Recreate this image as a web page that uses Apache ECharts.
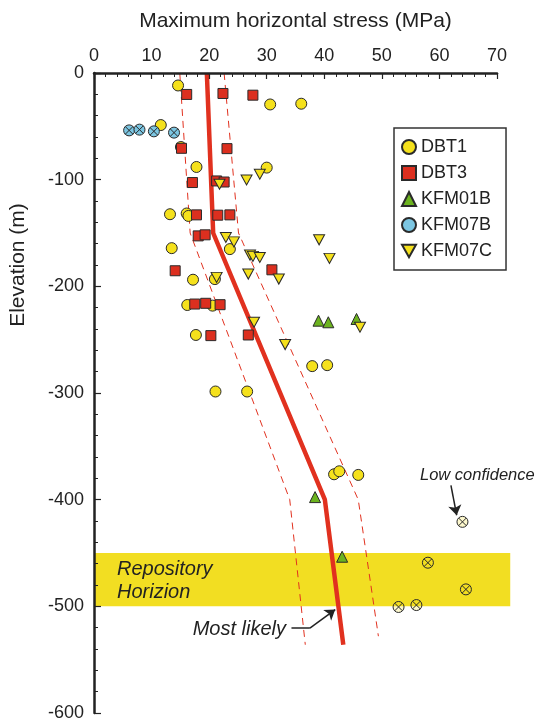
<!DOCTYPE html>
<html>
<head>
<meta charset="utf-8">
<script src="https://cdn.jsdelivr.net/npm/echarts@6/dist/echarts.min.js"></script>
<style>
    html, body { margin: 0; padding: 0; background: #fff; }
    #stress_chart { width: 537px; height: 722px; }
</style>
</head>
<body>
<div id="stress_chart"></div>
<script>
    // measured points: [stress MPa, elevation m]
    var dbt1 = [[14.6,-11.7],[30.6,-29.5],[36.0,-28.8],[11.6,-48.8],[15.1,-69.4],[17.8,-88.1],[30.0,-88.7],
        [13.2,-132.4],[16.1,-131.7],[16.4,-134.0],[13.5,-164.2],[23.6,-165.1],[17.2,-193.8],[21.0,-193.2],
        [16.2,-217.5],[20.6,-218.1],[17.7,-245.6],[37.9,-274.8],[40.5,-273.9],[21.1,-298.6],[26.6,-298.6],
        [41.7,-376.2],[42.6,-373.4],[45.9,-376.8]];
    var dbt3 = [[16.1,-20.1],[22.4,-19.2],[27.6,-20.8],[15.2,-70.6],[23.1,-70.9],[17.1,-102.7],[21.3,-101.2],
        [22.6,-102.2],[17.8,-133.0],[21.5,-133.3],[23.6,-133.0],[18.1,-152.7],[19.3,-151.7],[14.1,-185.4],
        [30.9,-184.5],[17.5,-216.6],[19.4,-215.9],[21.9,-217.2],[20.3,-246.2],[26.8,-245.6]];
    var kfm01b = [[39.0,-232.2],[40.7,-233.7],[45.6,-230.6],[38.4,-397.6],[43.1,-453.5]];
    var kfm07b = [[6.1,-53.8],[7.9,-53.1],[10.4,-54.7],[13.9,-55.9]];
    var kfm07c = [[28.8,-94.9],[26.5,-100.3],[21.8,-104.3],[22.9,-154.2],[24.3,-158.3],[39.1,-156.4],
        [40.9,-173.8],[27.1,-170.7],[27.6,-171.9],[28.8,-172.9],[32.1,-193.2],[21.3,-191.6],[26.8,-188.5],
        [27.8,-233.7],[33.2,-254.6],[46.2,-238.4]];
    var lowConfidence = [[64.0,-420.8],[58.0,-459.1],[64.6,-484.1],[52.9,-500.6],[56.0,-498.8]];

    // stress profiles
    var mostLikely = [[19.6,0],[20.7,-150],[40.1,-400],[43.3,-536]];
    var lowerBound = [[14.9,0],[16.7,-150],[34.0,-400],[36.7,-536]];
    var upperBound = [[22.6,0],[25.1,-150],[45.9,-400],[49.4,-528]];

    // repository horizon band [x from, x to, elevation top, elevation bottom]
    var repositoryBand = [0, 72.3, -450, -500];

    // annotation arrows (last segment carries the head)
    var arrowLowConfidence = [[62.0,-386.5],[63.0,-414.6]];
    var leaderMostLikely = [[34.3,-520.5],[37.5,-520.5]];
    var arrowMostLikely = [[37.5,-520.5],[41.9,-503.0]];

    var xRange = [0, 70, 10];
    var yRange = [-600, 0, 100];

    var FONT = 'Liberation Sans, Arial, sans-serif';
    var crossCircle = 'path://M10,0A10,10,0,1,1,10,20A10,10,0,1,1,10,0ZM3,3L17,17M17,3L3,17';
    var downTriangle = 'path://M0,0L10,0L5,9Z';

    function pointSeries(name, data, symbol, size, color) {
        return {
            name: name,
            type: 'scatter',
            data: data,
            symbol: symbol,
            symbolSize: size,
            z: 4,
            itemStyle: {
                color: color,
                borderColor: '#2a2a2a',
                borderWidth: 1,
                opacity: 1
            }
        };
    }

    function profile(data, width, dashed) {
        return {
            type: 'line',
            data: data,
            symbol: 'none',
            silent: true,
            z: 3,
            lineStyle: {
                color: '#e1311f',
                width: width,
                type: dashed ? [7, 5] : 'solid'
            }
        };
    }

    function arrow(coords, head) {
        return {
            type: 'lines',
            coordinateSystem: 'cartesian2d',
            silent: true,
            z: 5,
            symbol: head ? ['none', 'arrow'] : 'none',
            symbolSize: 10,
            lineStyle: { color: '#222', width: 1.5, opacity: 1 },
            data: [{ coords: coords }]
        };
    }

    var option = {
        animation: false,
        backgroundColor: '#fff',
        textStyle: { fontFamily: FONT },
        grid: { left: 94, right: 40, top: 73, bottom: 7 },
        legend: {
            orient: 'vertical',
            left: 394,
            top: 128,
            padding: [10, 14, 10, 7],
            itemGap: 8,
            itemWidth: 14,
            itemHeight: 14,
            borderColor: '#333',
            borderWidth: 1.5,
            selectedMode: false,
            textStyle: { fontSize: 18, color: '#222', fontFamily: FONT },
            data: [
                { name: 'DBT1', icon: 'circle' },
                { name: 'DBT3', icon: 'rect' },
                { name: 'KFM01B', icon: 'triangle' },
                { name: 'KFM07B', icon: 'circle' },
                { name: 'KFM07C', icon: downTriangle }
            ]
        },
        xAxis: {
            type: 'value',
            position: 'top',
            min: xRange[0],
            max: xRange[1],
            interval: xRange[2],
            z: 6,
            name: 'Maximum horizontal stress (MPa)',
            nameLocation: 'middle',
            nameGap: 41,
            nameTextStyle: { fontSize: 21, color: '#222', fontFamily: FONT },
            axisLine: { onZero: false, lineStyle: { color: '#222', width: 2.5 } },
            axisTick: { inside: true, length: 6, lineStyle: { color: '#222', width: 1.2 } },
            minorTick: { show: true, splitNumber: 5, length: 4, lineStyle: { color: '#222', width: 1 } },
            axisLabel: { fontSize: 18, color: '#222', margin: 8, fontFamily: FONT },
            splitLine: { show: false }
        },
        yAxis: {
            type: 'value',
            min: yRange[0],
            max: yRange[1],
            interval: yRange[2],
            z: 6,
            axisLine: { onZero: false, lineStyle: { color: '#222', width: 2.5 } },
            axisTick: { inside: true, length: 7, lineStyle: { color: '#222', width: 1.2 } },
            minorTick: { show: true, splitNumber: 5, length: 4, lineStyle: { color: '#222', width: 1 } },
            axisLabel: { fontSize: 18, color: '#222', margin: 10, fontFamily: FONT },
            splitLine: { show: false }
        },
        graphic: [
            {
                type: 'text', x: 18, y: 265, rotation: Math.PI / 2,
                style: { text: 'Elevation (m)', fontSize: 21, fill: '#222', fontFamily: FONT, align: 'center', verticalAlign: 'middle' }
            },
            {
                type: 'text', x: 117, y: 569,
                style: { text: 'Repository', fontSize: 20, fontStyle: 'italic', fill: '#222', fontFamily: FONT, verticalAlign: 'middle' },
                z: 10
            },
            {
                type: 'text', x: 117, y: 592,
                style: { text: 'Horizion', fontSize: 20, fontStyle: 'italic', fill: '#222', fontFamily: FONT, verticalAlign: 'middle' },
                z: 10
            },
            {
                type: 'text', x: 286, y: 629,
                style: { text: 'Most likely', fontSize: 20, fontStyle: 'italic', fill: '#222', fontFamily: FONT, align: 'right', verticalAlign: 'middle' },
                z: 10
            },
            {
                type: 'text', x: 420, y: 475,
                style: { text: 'Low confidence', fontSize: 16.5, fontStyle: 'italic', fill: '#222', fontFamily: FONT, verticalAlign: 'middle' },
                z: 10
            }
        ],
        series: [
            {
                type: 'custom',
                silent: true,
                z: 1,
                data: [repositoryBand],
                renderItem: function (params, api) {
                    var p1 = api.coord([api.value(0), api.value(2)]);
                    var p2 = api.coord([api.value(1), api.value(3)]);
                    return {
                        type: 'rect',
                        shape: { x: p1[0], y: p1[1], width: p2[0] - p1[0], height: p2[1] - p1[1] },
                        style: { fill: '#f2de22' }
                    };
                }
            },
            profile(lowerBound, 1, true),
            profile(upperBound, 1, true),
            profile(mostLikely, 4.5, false),
            pointSeries('DBT1', dbt1, 'circle', 11, '#f5e11c'),
            pointSeries('DBT3', dbt3, 'rect', 10, '#dc2f1f'),
            pointSeries('KFM01B', kfm01b, 'triangle', 11, '#6cb31f'),
            pointSeries('KFM07B', kfm07b, crossCircle, 11, '#7cc6e2'),
            pointSeries('KFM07C', kfm07c, downTriangle, [11, 10], '#f5e11c'),
            pointSeries('low confidence', lowConfidence, crossCircle, 11, 'rgba(245,225,28,0.22)'),
            arrow(arrowLowConfidence, true),
            arrow(leaderMostLikely, false),
            arrow(arrowMostLikely, true)
        ]
    };

    var stressChart = echarts.init(document.getElementById('stress_chart'));
    stressChart.setOption(option);

    window.addEventListener('resize', function () {
        stressChart.resize();
    });
</script>
</body>
</html>
